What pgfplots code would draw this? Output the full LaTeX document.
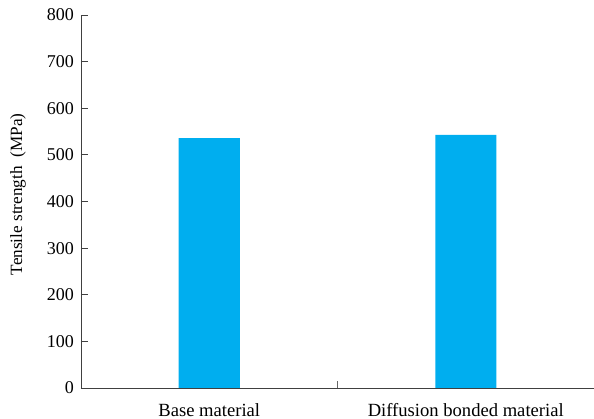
\documentclass[border=0pt]{standalone}
\usepackage{pgfplots}
\pgfplotsset{compat=1.18}
\usepackage{fontspec}
\setmainfont{Liberation Serif}
\definecolor{barblue}{RGB}{0,174,239}
\begin{document}
\fontsize{18}{21}\selectfont
\begin{tikzpicture}
\begin{axis}[
  scale only axis,
  width=513pt, height=373pt,
  xmin=-0.5, xmax=1.5,
  ymin=0, ymax=800,
  axis x line=bottom, axis y line=left,
  axis line style={black!75, line width=0.8pt, -},
  tick align=inside,
  xtick={0,1},
  xticklabels={Base material, Diffusion bonded material},
  x tick style={draw=none},
  ytick={0,100,...,800},
  y tick style={black!75, line width=0.8pt},
  major tick length=7pt,
  yticklabel style={font=\fontsize{18}{21}\selectfont, xshift=-1pt},
  xticklabel style={font=\fontsize{18.6}{21}\selectfont, yshift=-2pt},
  /pgf/number format/assume math mode=true,
  ylabel={Tensile strength\ \ (MPa)},
  ylabel style={font=\fontsize{17.2}{20}\selectfont, at={(axis description cs:-0.1228,0.519)}, anchor=center},
  ybar, bar width=61pt,
]
\addplot[fill=barblue, draw=none] coordinates {(0,536) (1,543)};
\addplot[sharp plot, no marks, draw=black!60, line width=0.8pt, forget plot] coordinates {(0.5,0) (0.5,15)};
\coordinate (ll) at (rel axis cs:0,0);
\coordinate (ur) at (rel axis cs:1,1);
\end{axis}
\pgfresetboundingbox
\path (ll) ++(-81pt,-31pt) coordinate (bl);
\path (ur) ++(0pt,15pt) coordinate (tr);
\path (bl) rectangle (tr);
\end{tikzpicture}
\end{document}
